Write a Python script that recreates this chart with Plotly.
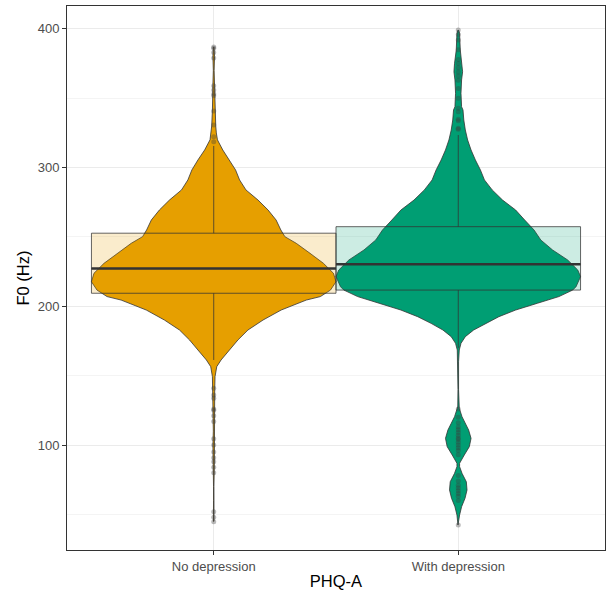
import plotly.graph_objects as go

# ---------------- data ----------------
categories = ["No depression", "With depression"]
positions = [1, 2]

# box statistics (Hz)
q1 = [209.4, 211.7]
median = [227.2, 230.3]
q3 = [252.7, 257.4]
lower_whisker = [161.3, 170.0]
upper_whisker = [315.6, 323.5]

# violin profiles: F0 level (Hz) and relative density (estimated from outline)
nd_levels = [387, 380, 370, 360, 352, 345, 341.5, 330, 325, 320, 312.7, 305.5, 298.3,
             291.1, 283.9, 276.6, 269.4, 262.2, 255.0, 250.2, 245.4, 238.2, 231.0,
             223.8, 217.7, 211.7, 207.0, 204.5, 197.3, 190.1, 182.9, 175.7, 168.5,
             161.3, 156.5, 149.3, 140, 133, 126, 120, 110, 100, 91, 85, 70, 60, 52, 45]
nd_density = [0.3, 0.8, 0.4, 0.8, 1.0, 1.0, 1.3, 2.0, 2.6, 3.7, 9.0, 15.7, 21.7,
              25.7, 32.0, 44.0, 54.0, 62.0, 66.7, 70.7, 82.0, 95.7, 109.0,
              119.0, 121.5, 116.0, 106.0, 92.0, 67.0, 49.0, 34.0, 24.0, 15.7,
              7.3, 3.0, 1.3, 1.0, 1.0, 1.0, 0.8, 0.4, 0.8, 1.0, 0.6, 0.2, 0.2, 0.5, 0.3]

wd_levels = [399.2, 396.8, 384.8, 375.2, 369.1, 363.2, 353.6, 343.9, 341.5, 334.3,
             327.1, 319.9, 312.7, 305.5, 298.3, 291.1, 283.9, 276.6, 269.4, 262.2,
             255.0, 247.8, 240.6, 233.4, 226.2, 221.4, 214.1, 211.7, 207.0, 202.2,
             197.3, 192.5, 187.7, 182.9, 178.1, 173.3, 168.5, 160, 140, 128, 126.5,
             120.4, 115.6, 110.8, 104.8, 98.8, 92.8, 86.8, 84.4, 79.6, 73.5, 67.6,
             61.6, 55.5, 49.5, 42.3]
wd_density = [0.3, 1.3, 2.0, 3.7, 4.3, 3.3, 2.7, 3.3, 4.7, 5.5,
              7.0, 9.3, 12.7, 17.0, 22.0, 26.0, 33.7, 44.0, 57.0, 66.0,
              75.3, 82.0, 93.7, 108.7, 118.7, 121.5, 117.0, 113.7, 100.0, 78.7,
              57.0, 40.3, 27.0, 15.3, 7.0, 2.7, 1.0, 0.3, 0.3, 0.5, 1.0,
              3.7, 7.0, 10.3, 12.7, 11.0, 6.0, 1.3, 1.3, 3.7, 8.0, 8.7,
              6.7, 3.3, 1.3, 0.3]

# outlier observations (Hz)
nd_outliers = [387, 386, 383, 379, 359, 356, 353, 351.8, 340.8, 330.7, 322.3, 318.7,
               140.9, 136, 133.7, 126, 125, 121, 117, 104.5, 100, 95, 90.8, 88, 84, 80,
               51.9, 48, 44.7]
wd_outliers = [399.2, 396, 392, 385, 378, 375, 372, 369, 366, 363, 357, 350, 342.8,
               340.3, 334.9, 333.8, 328.3, 327.7,
               126, 120, 116, 113, 111, 109, 107, 105, 104, 102, 100, 98, 96, 93,
               78, 74, 71, 69, 67, 65, 63, 60, 42.3]

fill_colors = ["#E69F00", "#009E73"]
box_fills = ["rgba(230,159,0,0.2)", "rgba(0,158,115,0.2)"]

levels_all = [nd_levels, wd_levels]
density_all = [nd_density, wd_density]
outliers_all = [nd_outliers, wd_outliers]

violin_width = 1.0
box_width = 1.0
yrange = [24.3, 416.5]
xrange = [0.4, 2.6]

fig = go.Figure()

# violins (main axes, drawn underneath)
for pos, lv, dn, col in zip(positions, levels_all, density_all, fill_colors):
    m = max(dn)
    half = [violin_width / 2 * d / m for d in dn]
    xs = [pos + h for h in half] + [pos - h for h in reversed(half)]
    ys = list(lv) + list(reversed(lv))
    fig.add_trace(go.Scatter(x=xs, y=ys, mode="lines", fill="toself",
                             fillcolor=col, line=dict(color="#333333", width=0.8),
                             hoverinfo="skip", showlegend=False))

# boxes (overlay axes so they sit above the violins)
for i, pos in enumerate(positions):
    fig.add_trace(go.Box(x=[pos], q1=[q1[i]], median=[median[i]], q3=[q3[i]],
                         lowerfence=[lower_whisker[i]], upperfence=[upper_whisker[i]],
                         width=box_width, whiskerwidth=0, boxpoints=False,
                         fillcolor=box_fills[i],
                         line=dict(color="rgba(51,51,51,0.75)", width=1),
                         xaxis="x2", yaxis="y2", showlegend=False, hoverinfo="skip"))
    fig.add_trace(go.Scatter(x=[pos - box_width / 2, pos + box_width / 2],
                             y=[median[i], median[i]], mode="lines",
                             line=dict(color="#333333", width=2.6),
                             xaxis="x2", yaxis="y2", showlegend=False, hoverinfo="skip"))
    fig.add_trace(go.Scatter(x=[pos] * len(outliers_all[i]), y=outliers_all[i],
                             mode="markers",
                             marker=dict(size=5, color="rgba(60,60,60,0.35)",
                                         line=dict(width=0)),
                             xaxis="x2", yaxis="y2", showlegend=False, hoverinfo="skip"))

font = "Liberation Sans, Arial, sans-serif"
fig.update_layout(
    width=606, height=594,
    margin=dict(l=67, r=1, t=6, b=44),
    paper_bgcolor="white", plot_bgcolor="white",
    font=dict(family=font, color="#4d4d4d"),
    xaxis=dict(range=xrange, tickvals=positions, ticktext=categories,
               showgrid=True, gridcolor="#ebebeb", gridwidth=1,
               zeroline=False, showline=True, mirror=True, linecolor="#333333",
               linewidth=1, ticks="outside", ticklen=4, tickcolor="#333333",
               tickfont=dict(size=13, color="#4d4d4d", family=font),
               title=dict(text="PHQ-A", font=dict(size=16.5, color="black", family=font),
                          standoff=2)),
    yaxis=dict(range=yrange, tickvals=[100, 200, 300, 400],
               showgrid=True, gridcolor="#ebebeb", gridwidth=1,
               minor=dict(tickvals=[50, 150, 250, 350], showgrid=True,
                          gridcolor="#f4f4f4", gridwidth=0.6, ticks=""),
               zeroline=False, showline=True, mirror=True, linecolor="#333333",
               linewidth=1, ticks="outside", ticklen=4, tickcolor="#333333",
               tickfont=dict(size=13, color="#4d4d4d", family=font),
               title=dict(text="F0 (Hz)", font=dict(size=16.5, color="black", family=font),
                          standoff=3)),
    xaxis2=dict(overlaying="x", anchor="y2", range=xrange, visible=False),
    yaxis2=dict(overlaying="y", anchor="x2", range=yrange, visible=False),
)

fig.write_html("out.html", config={"displayModeBar": False},
               post_script="document.body.style.margin='0';document.body.style.padding='0';")
